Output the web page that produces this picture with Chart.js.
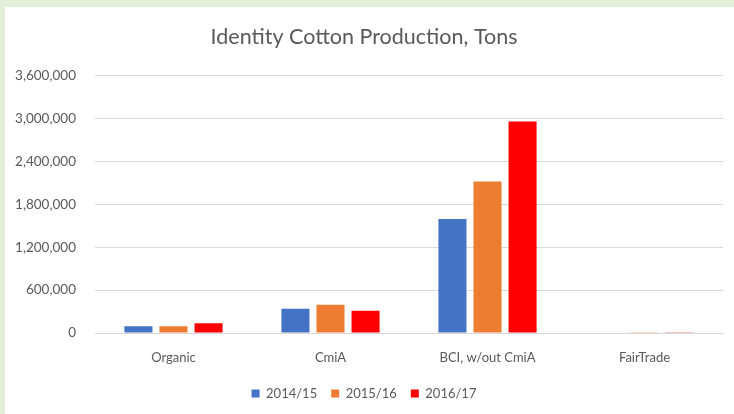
<!DOCTYPE html>
<html>
<head>
<meta charset="utf-8">
<script src="https://cdn.jsdelivr.net/npm/chart.js@4/dist/chart.umd.min.js"></script>
<style>
  html,body{margin:0;padding:0;background:#e2efd9;}
  #wrap{position:absolute;left:5px;top:7px;width:729px;height:407px;background:#fff;}
</style>
</head>
<body>
<div id="wrap"><canvas id="c" width="729" height="407"></canvas></div>
<script>
// ---------- data ----------
const CATEGORIAS = ["Organic", "CmiA", "BCI, w/out CmiA", "FairTrade"];
const S_2014 = [95000, 340000, 1594000, 8000];
const S_2015 = [95000, 397000, 2120000, 9000];
const S_2016 = [135000, 313000, 2960000, 12000];
const SERIES = ["2014/15", "2015/16", "2016/17"];
const Y_TICKS = [0, 600000, 1200000, 1800000, 2400000, 3000000, 3600000];

const CORES = ["#4472c4", "#ed7d31", "#ff0000"];
const TXT = "#595959";
const FONT = "Lato, 'Open Sans', sans-serif";

const fmt = v => v.toLocaleString("en-US");

new Chart(document.getElementById("c"), {
  type: "bar",
  data: {
    labels: CATEGORIAS,
    datasets: [S_2014, S_2015, S_2016].map((d, i) => ({
      label: SERIES[i], data: d, backgroundColor: CORES[i],
      categoryPercentage: 0.67, barPercentage: 0.8
    }))
  },
  options: {
    responsive: false, animation: false,
    layout: {padding: {top: 17, left: 0, right: 11, bottom: 4}},
    plugins: {
      title: {display: true, text: "Identity Cotton Production, Tons", color: TXT,
        font: {family: FONT, size: 21.5, weight: "normal"}, padding: {top: 0, bottom: 26}},
      legend: {position: "bottom",
        labels: {color: TXT, boxWidth: 8, boxHeight: 8, padding: 14,
          font: {family: FONT, size: 13}}},
      tooltip: {enabled: false}
    },
    scales: {
      x: {grid: {display: false, drawTicks: false}, border: {color: "#d9d9d9"},
        afterFit: s => { s.height = 40; },
        ticks: {color: TXT, padding: 17, font: {family: FONT, size: 13}}},
      y: {min: 0, max: 3600000,
        afterBuildTicks: ax => { ax.ticks = Y_TICKS.map(v => ({value: v})); },
        afterFit: s => { s.width = 90; },
        grid: {color: "#d9d9d9", drawTicks: false}, border: {display: false},
        ticks: {color: TXT, padding: 19, font: {family: FONT, size: 13.5}, callback: v => fmt(v)}}
    }
  }
});
</script>
</body>
</html>
